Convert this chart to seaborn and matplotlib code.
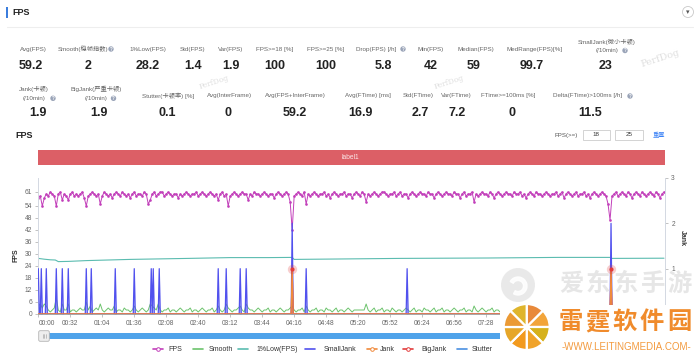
import numpy as np
import matplotlib
matplotlib.use('Agg')
import matplotlib.pyplot as plt
from matplotlib.patches import Rectangle, Circle, Wedge, FancyBboxPatch
import seaborn as sns

# ---------------- 数据 ----------------
# FPS 与 Smooth 每 2 秒一个采样点
fps_step = 2
fps = [
    58, 59, 54, 58, 60, 59, 61, 60, 59, 54, 60, 61, 57, 60, 59, 57, 60, 61, 59, 60,
    59, 60, 61, 58, 54, 59, 60, 61, 60, 59, 60, 55, 59, 61, 60, 59, 60, 58, 60, 61,
    60, 59, 61, 60, 59, 60, 58, 60, 61, 59, 60, 60, 59, 61, 60, 55, 57, 60, 61, 59,
    60, 61, 61, 59, 60, 61, 60, 59, 60, 60, 58, 60, 59, 60, 61, 60, 59, 60, 60, 61,
    59, 60, 61, 60, 59, 60, 61, 60, 59, 60, 57, 60, 61, 59, 60, 54, 59, 60, 61, 60,
    59, 60, 61, 60, 60, 57, 60, 59, 61, 60, 60, 59, 60, 61, 60, 59, 60, 60, 58, 60,
    61, 60, 59, 60, 61, 60, 56, 42, 59, 60, 61, 60, 59, 61, 55, 60, 59, 60, 61, 60,
    59, 60, 60, 61, 59, 60, 58, 60, 61, 60, 59, 60, 60, 61, 59, 60, 60, 58, 60, 61,
    60, 59, 61, 60, 56, 60, 59, 60, 61, 60, 59, 60, 61, 61, 60, 59, 60, 60, 61, 59,
    60, 61, 59, 60, 60, 58, 60, 61, 60, 59, 60, 61, 60, 60, 59, 61, 60, 60, 58, 60,
    61, 60, 59, 60, 61, 60, 60, 59, 61, 60, 60, 58, 60, 61, 59, 60, 60, 61, 56, 60,
    59, 60, 61, 60, 60, 59, 61, 60, 58, 60, 61, 60, 59, 60, 61, 60, 60, 59, 61, 60,
    60, 61, 59, 60, 58, 60, 61, 60, 59, 61, 60, 60, 59, 60, 61, 60, 59, 60, 60, 61,
    59, 60, 61, 58, 60, 61, 60, 59, 60, 61, 59, 60, 60, 61, 59, 60, 58, 60, 61, 60,
    59, 60, 61, 60, 59, 55, 47, 59, 60, 61, 59, 60, 61, 60, 59, 61, 60, 58, 60, 61,
    60, 59, 61, 60, 59, 60, 61, 60, 59, 61, 60, 58, 60, 61,
]
smooth = [
    4, 5, 3, 5, 4, 2, 1, 2, 3, 8, 2, 1, 5, 2, 2, 5, 1, 2, 2, 1,
    2, 3, 2, 2, 6, 2, 4, 1, 2, 3, 2, 5, 2, 1, 2, 3, 2, 2, 4, 1,
    2, 2, 1, 3, 2, 2, 1, 2, 4, 2, 1, 2, 3, 2, 1, 2, 5, 4, 3, 2,
    5, 2, 1, 2, 2, 3, 1, 2, 2, 1, 2, 3, 2, 1, 2, 2, 3, 1, 2, 2,
    1, 2, 3, 2, 1, 2, 2, 3, 1, 2, 4, 2, 1, 2, 5, 3, 2, 1, 2, 2,
    3, 4, 2, 1, 5, 3, 2, 2, 1, 2, 3, 2, 1, 2, 2, 3, 1, 2, 2, 1,
    2, 3, 2, 1, 2, 2, 3, 4, 2, 1, 2, 2, 3, 1, 4, 2, 1, 2, 2, 3,
    1, 2, 2, 1, 3, 2, 2, 1, 2, 3, 1, 2, 2, 1, 2, 3, 2, 1, 2, 2,
    2, 2, 2, 2, 5, 2, 1, 2, 3, 1, 2, 2, 3, 1, 2, 2, 1, 3, 2, 1,
    2, 2, 1, 2, 3, 2, 1, 2, 3, 1, 2, 2, 1, 3, 2, 2, 1, 2, 3, 1,
    2, 2, 3, 1, 2, 2, 1, 2, 3, 2, 1, 2, 2, 3, 1, 2, 2, 1, 4, 2,
    1, 2, 3, 2, 1, 2, 2, 3, 1, 2, 2, 1, 3, 2, 2, 1, 2, 3, 1, 2,
    2, 1, 2, 3, 2, 1, 2, 2, 3, 1, 2, 2, 1, 2, 3, 2, 1, 2, 2, 1,
    3, 2, 2, 1, 2, 3, 1, 2, 2, 3, 1, 2, 2, 1, 3, 2, 1, 2, 2, 3,
    1, 2, 2, 3, 1, 2, 4, 2, 1, 2, 3, 2, 1, 2, 2, 3, 1, 2, 2, 1,
    2, 3, 1, 2, 2, 1, 3, 2, 2, 1, 2, 3, 2, 2,
]
low1_t = [0, 6, 12, 17, 20, 30, 48, 92, 150, 192, 230, 254, 256, 300, 362, 450, 520, 572, 574, 626]
low1 = [27.8, 27.4, 27.1, 27.0, 26.2, 26.3, 26.7, 27.3, 27.8, 28.2, 28.2, 28.3, 27.3, 27.5, 27.8, 28.0, 28.3, 28.3, 27.8, 27.9]

duration = 627  # 秒
small_jank_t = [0, 3, 8, 18, 24, 30, 48, 53, 77, 96, 113, 115, 121, 180, 188, 202, 208, 254, 268, 369, 573]
small_jank = [1, 1, 1, 1, 1, 1, 1, 1, 1, 1, 1, 1, 1, 1, 1, 1, 1, 2, 1, 1, 2]
jank_t = [254, 573]
jank = [1, 1]
bigjank_t = [254, 573]
bigjank = [1, 1]
stutter_t = [0, 626]
stutter = [0, 0]

row1_labels = ['Avg(FPS)', 'Smooth(稳帧指数)', '1%Low(FPS)', 'Std(FPS)', 'Var(FPS)', 'FPS>=18 [%]',
               'FPS>=25 [%]', 'Drop(FPS) [/h]', 'Min(FPS)', 'Median(FPS)', 'MedRange(FPS)[%]',
               'SmallJank(微小卡顿)\n(/10min)']
row1_values = ['59.2', '2', '28.2', '1.4', '1.9', '100', '100', '5.8', '42', '59', '99.7', '23']
row2_labels = ['Jank(卡顿)\n(/10min)', 'BigJank(严重卡顿)\n(/10min)', 'Stutter(卡顿率) [%]',
               'Avg(InterFrame)', 'Avg(FPS+InterFrame)', 'Avg(FTime) [ms]', 'Std(FTime)',
               'Var(FTime)', 'FTime>=100ms [%]', 'Delta(FTime)>100ms [/h]']
row2_values = ['1.9', '1.9', '0.1', '0', '59.2', '16.9', '2.7', '7.2', '0', '11.5']

legend_labels = ['FPS', 'Smooth', '1%Low(FPS)', 'SmallJank', 'Jank', 'BigJank', 'Stutter']
fps_thresholds = ['18', '25']

# ---------------- 样式 ----------------
MAG = '#c23fba'
GREEN = '#6cc36c'
TEAL = '#5bbcb0'
BLUE = '#5151ee'
ORANGE = '#f08a3c'
RED = '#e23c3c'
STUT = '#4a90e2'
LBL = '#666666'

sns.set_theme(style='white')
plt.rcParams['font.family'] = ['Liberation Sans', 'Noto Sans CJK SC', 'DejaVu Sans']

fig = plt.figure(figsize=(7, 3.55), dpi=100)
fig.patch.set_facecolor('white')

# 背景层, 像素坐标
bg = fig.add_axes([0, 0, 1, 1])
bg.set_xlim(0, 700)
bg.set_ylim(355, 0)
bg.axis('off')


def qicon(x, y):
    bg.add_patch(Circle((x, y), 2.7, color='#9aa4b8', lw=0))
    bg.text(x, y + 0.2, '?', color='white', fontsize=3.3, ha='center', va='center', weight='bold')


def label(x, y, text):
    # 两行标签拆开画, 行距 9 像素
    lines = text.split('\n')
    y0 = y - 4.5 * (len(lines) - 1)
    for k, ln in enumerate(lines):
        bg.text(x, y0 + 9 * k, ln, fontsize=4.5, color=LBL, ha='center', va='center')


# 头部
bg.add_patch(Rectangle((6, 7), 1.6, 11, color='#3b7ddd', lw=0))
bg.text(12.5, 12.5, 'FPS', fontsize=6.5, weight='bold', color='#222', va='center')
bg.plot([7, 693], [26.5, 26.5], color='#eeeeee', lw=0.8)
bg.add_patch(Circle((688, 12), 5.5, fc='white', ec='#c8c8c8', lw=0.6))
bg.text(688, 12.5, '▾', fontsize=5, color='#555', ha='center', va='center', family='DejaVu Sans')

# 指标第一行
row1_lx = [33, 82.7, 148, 192.5, 231, 275, 326, 375.8, 431, 475.5, 535, 607]
row1_vx = [30.5, 87.7, 148, 193, 231, 275, 326, 383, 431, 474, 532, 606]
for lab, val, lx, vx in zip(row1_labels, row1_values, row1_lx, row1_vx):
    label(lx, 46 if '\n' in lab else 49, lab)
    bg.text(vx, 66, val, fontsize=9, weight='bold', color='#222', ha='center', va='center')
qicon(111, 49)
qicon(403, 49)
qicon(625, 50.5)

# 指标第二行
row2_lx = [34, 96, 168.5, 229.5, 295, 367.5, 418, 456, 508, 588]
row2_vx = [38, 99, 167, 228, 295, 360, 420, 457, 512, 590]
for lab, val, lx, vx in zip(row2_labels, row2_values, row2_lx, row2_vx):
    label(lx, 93.8 if '\n' in lab else 96, lab)
    bg.text(vx, 113.5, val, fontsize=9, weight='bold', color='#222', ha='center', va='center')
qicon(53, 98.3)
qicon(113.5, 98.3)
qicon(630, 96)

# 图表标题与阈值输入框
bg.text(15, 135.5, 'FPS', fontsize=6.5, weight='bold', color='#222', va='center')
bg.text(566.5, 135, 'FPS(>=)', fontsize=4.4, color='#555', ha='center', va='center')
for bx, lab in zip([582.7, 615.3], fps_thresholds):
    bg.add_patch(Rectangle((bx, 129.5), 27.5, 10.5, fc='white', ec='#cccccc', lw=0.6))
    bg.text(bx + 13.7, 135, lab, fontsize=4.5, color='#333', ha='center', va='center')
bg.text(659, 135, '重置', fontsize=4.5, color='#3b82f6', ha='center', va='center')

# label1 色条
bg.add_patch(Rectangle((38, 150), 627, 15, color='#dc5f66', lw=0))
bg.text(350.5, 157.5, 'label1', fontsize=4.8, color='#fbe6e7', ha='center', va='center')

# ---------------- 主图 ----------------
ax = fig.add_axes([38.3 / 700, 1 - 314 / 355, (665 - 38.3) / 700, 136 / 355])
t_fps = np.arange(len(fps)) * fps_step
sec = np.arange(duration + 1)
sj = np.zeros(len(sec))
sj[small_jank_t] = small_jank
jk = np.zeros(len(sec))
jk[jank_t] = jank
bj = np.zeros(len(sec))
bj[bigjank_t] = bigjank

sns.lineplot(x=t_fps, y=smooth, ax=ax, color=GREEN, lw=0.7)
sns.lineplot(x=low1_t, y=low1, ax=ax, color=TEAL, lw=0.8)
sns.lineplot(x=stutter_t, y=stutter, ax=ax, color=STUT, lw=0.8)
sns.lineplot(x=t_fps, y=fps, ax=ax, color=MAG, lw=0.7, marker='o', markersize=1.9,
             markeredgewidth=0)

ax2 = ax.twinx()
sns.lineplot(x=sec, y=sj, ax=ax2, color=BLUE, lw=0.9)
ax2.fill_between(sec, sj, color=BLUE, alpha=0.25, lw=0)
sns.lineplot(x=sec, y=bj, ax=ax2, color=RED, lw=0.8)
sns.lineplot(x=sec, y=jk, ax=ax2, color=ORANGE, lw=0.9)
ax2.scatter(bigjank_t, bigjank, s=45, color=RED, alpha=0.25, lw=0, zorder=5)
ax2.scatter(bigjank_t, bigjank, s=9, color=RED, lw=0, zorder=6)

ax.set_xlim(0, duration)
ax.set_ylim(0, 68)
ax2.set_ylim(0, 3)
ax.set_yticks([0, 6, 12, 18, 24, 30, 36, 42, 48, 54, 61])
ax2.set_yticks([1, 2, 3])
# 07:28 之后的刻度被右下角 logo 遮住
xt = list(range(0, 449, 32))
ax.set_xticks(xt)
ax.set_xticklabels([f'{s // 60:02d}:{s % 60:02d}' for s in xt])
ax.get_xticklabels()[0].set_horizontalalignment('left')
ax.set_xlabel('')
ax.set_ylabel('')
ax2.set_ylabel('')

ax.tick_params(axis='both', labelsize=4.8, labelcolor=LBL, length=2.5, width=0.5,
               color='#aaaaaa', pad=2, bottom=True, left=True)
ax2.tick_params(axis='y', labelsize=4.8, labelcolor=LBL, length=2.5, width=0.5,
                color='#aaaaaa', pad=2, right=True)
for a in (ax, ax2):
    for s in a.spines.values():
        s.set_visible(False)
ax.spines['left'].set_visible(True)
ax.spines['left'].set_color('#d3d8e2')
ax.spines['left'].set_linewidth(0.7)
ax.spines['bottom'].set_visible(True)
ax.spines['bottom'].set_color('#999999')
ax.spines['bottom'].set_linewidth(0.6)
ax2.spines['right'].set_visible(True)
ax2.spines['right'].set_color('#d3d8e2')
ax2.spines['right'].set_linewidth(0.7)

bg.text(15.5, 255, 'FPS', fontsize=5, rotation=90, color='#333', ha='center', va='center',
        weight='bold')
bg.text(682, 238, 'Jank', fontsize=5, rotation=270, color='#333', ha='center', va='center',
        weight='bold')

# 水印
for wx, wy, fs in [(214, 82.5, 5.5), (449, 82.5, 5.5), (660, 58, 7),
                   (205, 263, 7), (428, 263, 7), (646, 255, 7)]:
    bg.text(wx, wy, 'PerfDog', fontsize=fs, color='#d8d8d8', rotation=18, ha='center',
            va='center', family='DejaVu Serif', alpha=0.8)

# 滚动条
bg.add_patch(Rectangle((48, 333.3), 617, 6, color='#4fa3ea', lw=0))
bg.add_patch(FancyBboxPatch((39, 331), 10, 10, boxstyle='round,pad=0.3,rounding_size=1.5',
                            fc='#eeeeee', ec='#b5b5b5', lw=0.6))
for gx in [42.5, 44, 45.5]:
    bg.plot([gx, gx], [334, 338], color='#999', lw=0.4)

# 图例
leg_icon_x = [153.3, 193.3, 238.3, 305, 366.7, 403.3, 456.7]
leg_text_x = [168.3, 208.3, 256.7, 323.3, 380, 421, 471.7]
leg_colors = [MAG, GREEN, TEAL, BLUE, ORANGE, RED, STUT]
leg_marker = [True, False, False, False, True, True, False]
for lab, ix, tx, c, mk in zip(legend_labels, leg_icon_x, leg_text_x, leg_colors, leg_marker):
    bg.plot([ix, ix + 10], [349, 349], color=c, lw=1.2)
    if mk:
        bg.plot([ix + 5], [349], marker='o', ms=2.6, mfc='white', mec=c, mew=0.7)
    bg.text(tx, 349.3, lab, fontsize=5, color='#333', va='center')

# ---------------- 右下角 logo ----------------
ov = fig.add_axes([0, 0, 1, 1], zorder=10)
ov.set_xlim(0, 700)
ov.set_ylim(355, 0)
ov.axis('off')
ov.add_patch(Circle((518, 285), 17, color='#e6e6e6', alpha=0.85, lw=0))
ov.add_patch(Wedge((518, 286), 9, 210, 480, width=3.5, color='white', alpha=0.9))
for k, ch in enumerate('爱东东手游'):
    ov.text(571 + k * 27.2, 284, ch, fontsize=17.5, color='#e2e2e2', alpha=0.85,
            weight='bold', ha='center', va='center', family='Noto Sans CJK SC')
ov.add_patch(Rectangle((500, 305), 200, 50, color='white', lw=0))
wheel_colors = ['#e8893a', '#f2a43a', '#d6b11c', '#f0a32a', '#f29a1e', '#e6a628', '#eb9a35', '#dfb52c']
for k, wc in enumerate(wheel_colors):
    ov.add_patch(Wedge((526.7, 327), 23, k * 45 - 90, k * 45 - 45, fc=wc, ec='white', lw=1.6))
ov.add_patch(Circle((526.7, 327), 2.5, color='white', lw=0))
for k, ch in enumerate('雷霆软件园'):
    ov.text(570.5 + k * 27.2, 322, ch, fontsize=17.5, color='#f08b2c', weight='bold',
            ha='center', va='center', family='Noto Sans CJK SC')
ov.text(626, 346.7, '-WWW.LEITINGMEDIA.COM-', fontsize=7, color='#f39a3e', ha='center',
        va='center')

fig.savefig('out.png', dpi=100, facecolor='white')
